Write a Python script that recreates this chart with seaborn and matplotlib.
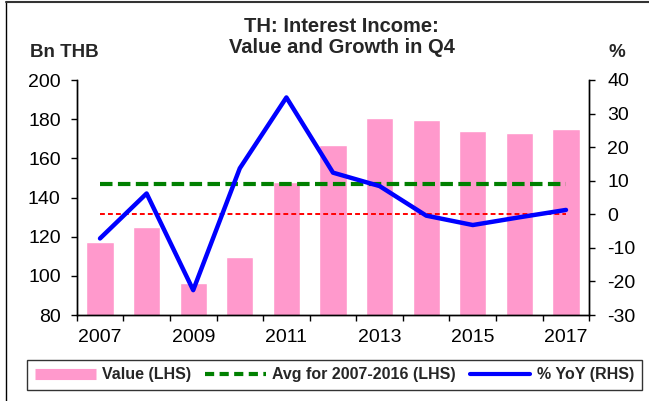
import numpy as np
import pandas as pd
import matplotlib.pyplot as plt
import seaborn as sns
from matplotlib.lines import Line2D

# Data
years = [2007, 2008, 2009, 2010, 2011, 2012, 2013, 2014, 2015, 2016, 2017]
value_bn = [117.4, 125.1, 96.5, 109.6, 147.9, 166.7, 180.4, 179.6, 174.0, 172.8, 175.0]
yoy_pct = [-7.2, 6.2, -22.6, 13.7, 34.8, 12.4, 8.4, -0.4, -3.2, -0.9, 1.3]
avg_years = (2007, 2016)
zero_ref = [0.0] * len(years)

df = pd.DataFrame({"year": years, "value": value_bn, "yoy": yoy_pct, "zero": zero_ref})
df["pos"] = np.arange(len(df))
avg = df.loc[df["year"].between(*avg_years), "value"].mean()
df["avg"] = avg

PINK = "#FF99CC"
GREEN = "#008000"
BLUE = "#0000FF"
RED = "#FF0000"

sns.set_theme(style="white")
plt.rcParams["font.family"] = ["Liberation Sans", "DejaVu Sans"]
plt.rcParams["axes.unicode_minus"] = False

W, H = 649, 401
fig = plt.figure(figsize=(W / 100, H / 100), dpi=100)
ax = fig.add_axes([76.7 / W, 1 - 315 / H, (589.3 - 76.7) / W, (315 - 80) / H])

# bars (LHS)
sns.barplot(data=df, x="year", y="value", color=PINK, saturation=1, width=0.58, ax=ax)
# average line (LHS)
sns.lineplot(data=df, x="pos", y="avg", color=GREEN, lw=3, ax=ax, zorder=3)
ax.lines[-1].set_dashes((3.0, 1.3))

ax2 = ax.twinx()
sns.lineplot(data=df, x="pos", y="zero", color=RED, lw=1.4, ax=ax2, zorder=2)
ax2.lines[-1].set_dashes((2.5, 1.6))
sns.lineplot(data=df, x="pos", y="yoy", color=BLUE, lw=3.2, ax=ax2, zorder=4)

ax.set_xlim(-0.5, len(years) - 0.5)
ax.set_ylim(80, 200)
ax.set_yticks(np.arange(80, 201, 20))
ax2.set_ylim(-30, 40)
ax2.set_yticks(np.arange(-30, 41, 10))

ax.set_xticks(df["pos"][::2])
ax.set_xticklabels([str(y) for y in years[::2]])
ax.set_xticks(np.arange(-0.5, len(years), 1), minor=True)
ax.set_xlabel("")
ax.set_ylabel("")
ax2.set_xlabel("")
ax2.set_ylabel("")

for a in (ax, ax2):
    a.spines["top"].set_visible(False)
    for s in a.spines.values():
        s.set_color("black")
        s.set_linewidth(1.0)

ax.tick_params(axis="x", which="major", bottom=True, length=0, pad=10, labelsize=14, colors="black")
ax.tick_params(axis="x", which="minor", bottom=True, length=4, width=1, direction="out", color="black")
ax.tick_params(axis="y", left=True, length=4, width=1, direction="out", pad=7.5, labelsize=14,
               colors="black")
ax2.tick_params(axis="y", right=True, length=4.5, width=1, direction="out", pad=8.5, labelsize=14,
                colors="black")

# titles and axis units
fig.text(341 / W, 1 - 32 / H, "TH: Interest Income:", ha="center", va="baseline",
         fontsize=14.5, fontweight="bold")
fig.text(342 / W, 1 - 53 / H, "Value and Growth in Q4", ha="center", va="baseline",
         fontsize=14.5, fontweight="bold")
fig.text(30 / W, 1 - 57 / H, "Bn THB", ha="left", va="baseline", fontsize=13.5, fontweight="bold")
fig.text(617 / W, 1 - 57 / H, "%", ha="center", va="baseline", fontsize=13.5, fontweight="bold")

# legend
handles = [
    Line2D([], [], color=PINK, lw=8, solid_capstyle="butt"),
    Line2D([], [], color=GREEN, lw=3, dashes=(2.2, 1.3)),
    Line2D([], [], color=BLUE, lw=3),
]
labels = ["Value (LHS)", f"Avg for {avg_years[0]}-{avg_years[1]} (LHS)", "% YoY (RHS)"]
leg = fig.legend(handles, labels, loc="center", ncol=3, mode="expand",
                 bbox_to_anchor=(27 / W, 1 - 392 / H, 615 / W, 34 / H),
                 prop={"size": 11.5, "weight": "bold"}, frameon=True, fancybox=False,
                 handlelength=3.8, handletextpad=0.4, columnspacing=0.9, borderaxespad=0,
                 borderpad=0.5)
leg.get_frame().set_edgecolor("black")
leg.get_frame().set_linewidth(1.0)

# outer chart frame
fig.add_artist(Line2D([6 / W, 6 / W], [0, 1 - 1.5 / H], transform=fig.transFigure,
                      color="black", lw=1))
fig.add_artist(Line2D([6 / W, 1], [1 - 1.5 / H, 1 - 1.5 / H], transform=fig.transFigure,
                      color="#333333", lw=1.5))

fig.savefig("out.png", dpi=100)
